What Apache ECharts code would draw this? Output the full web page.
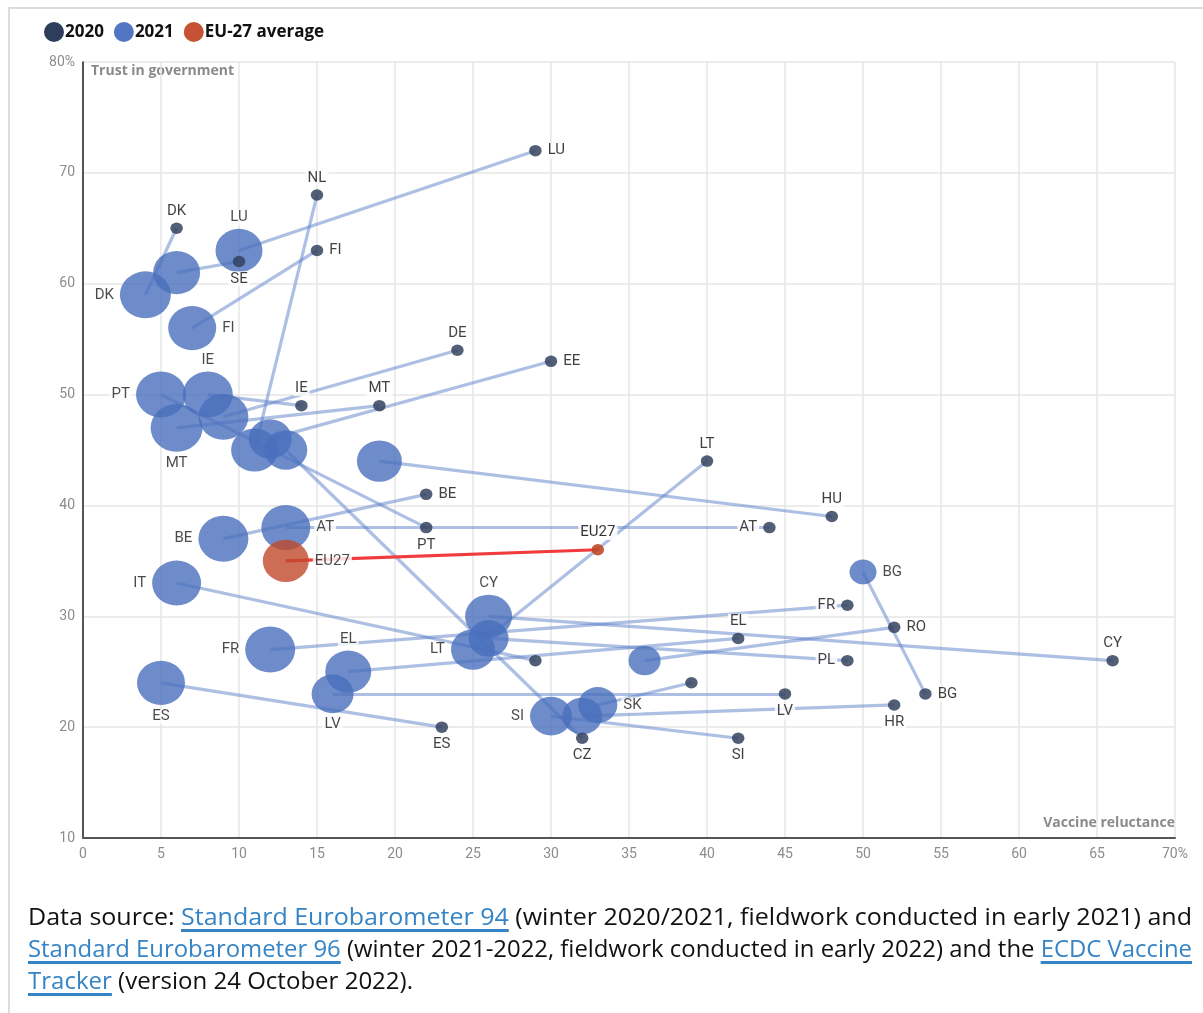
<!DOCTYPE html>
<html><head><meta charset="utf-8">
<script src="https://cdn.jsdelivr.net/npm/echarts@6/dist/echarts.min.js"></script>
<style>
html,body{margin:0;padding:0;background:#fff;width:1203px;height:1013px;overflow:hidden;}
#frame{position:absolute;left:8px;top:7px;width:1300px;height:1100px;border-top:2px solid #dcdcdc;border-left:2px solid #dcdcdc;}
#chart{position:absolute;left:0;top:0;width:1203px;height:1013px;}
#foot{position:absolute;left:28px;top:900px;font-family:'Open Sans',sans-serif;font-size:24px;line-height:32px;color:#111;}
.ln{white-space:nowrap;transform-origin:0 50%;display:block;width:max-content;}
a{color:#3584c6;text-decoration:underline;text-decoration-thickness:2.5px;text-underline-offset:4px;}
</style></head>
<body>
<div id="frame"></div>
<div id="chart"></div>
<div id="foot">
<span class="ln" data-w="1164">Data source: <a>Standard Eurobarometer 94</a> (winter 2020/2021, fieldwork conducted in early 2021) and</span>
<span class="ln" data-w="1164"><a>Standard Eurobarometer 96</a> (winter 2021-2022, fieldwork conducted in early 2022) and the <a>ECDC Vaccine</a></span>
<span class="ln" data-w="385"><a>Tracker</a> (version 24 October 2022).</span>
</div>
<script>
// ---- data ----
const countries = ['LU','NL','DK','SE','FI','DE','EE','IE','MT','LT','HU','BE','PT','AT','FR','RO','EL','CY','PL','IT','SK','LV','BG','HR','ES','CZ','SI'];
const reluct2020 = [29,15,6,10,15,24,30,14,19,40,48,22,22,44,49,52,42,66,49,29,39,45,54,52,23,32,42];
const trust2020  = [72,68,65,62,63,54,53,49,49,44,39,41,38,38,31,29,28,26,26,26,24,23,23,22,20,19,19];
const reluct2021 = [10,11,4,6,7,9,12,8,6,25,19,9,5,13,12,36,17,26,26,6,33,16,50,32,5,13,30];
const trust2021  = [63,45,59,61,56,48,46,50,47,27,44,37,50,38,27,26,25,30,28,33,22,23,34,21,24,45,21];
const bubble2021 = [47,47,51,47,48,50,43,50,52,44,45,50,50,49,50,32,46,47,40,49,39,42,27,40,48,43,42];
const euLabel = 'EU27';
const euReluct = [33,13];   // 2020, 2021
const euTrust  = [36,35];
const euBubble = 46;
const xTickLabels = ['0','5','10','15','20','25','30','35','40','45','50','55','60','65','70%'];
const yTickLabels = ['10','20','30','40','50','60','70','80%'];

// ---- label placement (style) ----
const pos2020 = {LU:'right',NL:'top',DK:'top',SE:'bottom',FI:'right',DE:'top',EE:'right',IE:'top',MT:'top',LT:'top',HU:'top',BE:'right',PT:'bottom',AT:'left',FR:'left',RO:'right',EL:'top',CY:'top',PL:'left',IT:null,SK:null,LV:'bottom',BG:'right',HR:'bottom',ES:'bottom',CZ:'bottom',SI:'bottom'};
const pos2021 = {LU:'top',NL:null,DK:'left',SE:null,FI:'right',DE:null,EE:null,IE:'top',MT:'bottom',LT:'left',HU:null,BE:'left',PT:'left',AT:'right',FR:'left',RO:null,EL:'top',CY:'top',PL:null,IT:'left',SK:'right',LV:'bottom',BG:'right',HR:null,ES:'bottom',CZ:null,SI:'left'};

const FONT = 'Roboto';
function lab(p, txt){
  if(!p) return {show:false};
  return {show:true, position:p, distance:4, formatter:txt, color:'#1e1e1e', fontSize:15, fontFamily:FONT,
          backgroundColor:'#fff', padding:[0,2]};
}

const chart = echarts.init(document.getElementById('chart'));
const lineData = countries.map((c,i)=>({coords:[[reluct2020[i],trust2020[i]],[reluct2021[i],trust2021[i]]]}));

const option = {
  animation:false,
  legend:{
    left:39, top:17, itemWidth:20, itemHeight:20, itemGap:10, icon:'circle',
    textStyle:{fontFamily:'Open Sans', fontWeight:'bold', fontSize:17, color:'#111', padding:[0,0,0,-4]},
    data:[
      {name:'2020', itemStyle:{color:'#2e3d5a', opacity:1}},
      {name:'2021', itemStyle:{color:'#5176c4', opacity:1}},
      {name:'EU-27 average', itemStyle:{color:'#c65233', opacity:1}}
    ]
  },
  grid:{left:83, right:28, top:62, bottom:175},
  xAxis:{type:'value', min:0, max:70, interval:5,
    axisLine:{show:true, onZero:false, lineStyle:{color:'#555', width:2}},
    axisTick:{show:false},
    splitLine:{show:true, lineStyle:{color:'#e6e6e6', width:1.5}},
    axisLabel:{color:'#8c8c8c', fontSize:14, fontFamily:FONT, margin:9,
      formatter:v=>xTickLabels[Math.round(v/5)]}
  },
  yAxis:{type:'value', min:10, max:80, interval:10,
    axisLine:{show:true, lineStyle:{color:'#222', width:1.5}},
    axisTick:{show:false},
    splitLine:{show:true, lineStyle:{color:'#e6e6e6', width:1.5}},
    axisLabel:{color:'#8c8c8c', fontSize:14, fontFamily:FONT, margin:8,
      formatter:v=>yTickLabels[Math.round((v-10)/10)]}
  },
  graphic:[
    {type:'text', left:91, top:64, style:{text:'Trust in government', font:'bold 14px "Open Sans"', fill:'#8a8a8a'}},
    {type:'text', right:28, top:816, style:{text:'Vaccine reluctance', font:'bold 14px "Open Sans"', fill:'#8a8a8a'}}
  ],
  series:[
    {name:'links', type:'lines', coordinateSystem:'cartesian2d', z:1, silent:true,
     lineStyle:{color:'#5b7fc7', width:3.2, opacity:0.5}, data:lineData},
    {name:'eulink', type:'lines', coordinateSystem:'cartesian2d', z:1, silent:true,
     lineStyle:{color:'#f03c3c', width:3.2, opacity:1},
     data:[{coords:[[euReluct[0],euTrust[0]],[euReluct[1],euTrust[1]]]}]},
    {name:'2021', type:'scatter', z:2,
     symbolSize:v=>[v[2], v[2]*0.92],
     itemStyle:{color:'#4a6fbd', opacity:0.8},
     data:countries.map((c,i)=>({name:c, value:[reluct2021[i],trust2021[i],bubble2021[i]], label:lab(pos2021[c],c)}))},
    {name:'EU-27 average', type:'scatter', z:2,
     symbolSize:v=>[v[2], v[2]*0.92],
     itemStyle:{color:'#c0482a', opacity:0.8},
     data:[
       {name:euLabel, value:[euReluct[1],euTrust[1],euBubble], label:lab('right',euLabel)},
       {name:euLabel, value:[euReluct[0],euTrust[0],12.5], itemStyle:{opacity:0.9}, label:lab('top',euLabel)}
     ]},
    {name:'2020', type:'scatter', z:3,
     symbolSize:[12.5,11.5],
     itemStyle:{color:'#34435f', opacity:0.85},
     data:countries.map((c,i)=>({name:c, value:[reluct2020[i],trust2020[i]], label:lab(pos2020[c],c)}))}
  ]
};
chart.setOption(option);

function fitFoot(){
  document.querySelectorAll('.ln').forEach(el=>{
    el.style.transform='none';
    const w = el.getBoundingClientRect().width;
    const t = +el.dataset.w;
    el.style.transform='scaleX('+(t/w)+')';
  });
}
fitFoot();
if(document.fonts && document.fonts.ready){document.fonts.ready.then(fitFoot);}
</script>
</body></html>
